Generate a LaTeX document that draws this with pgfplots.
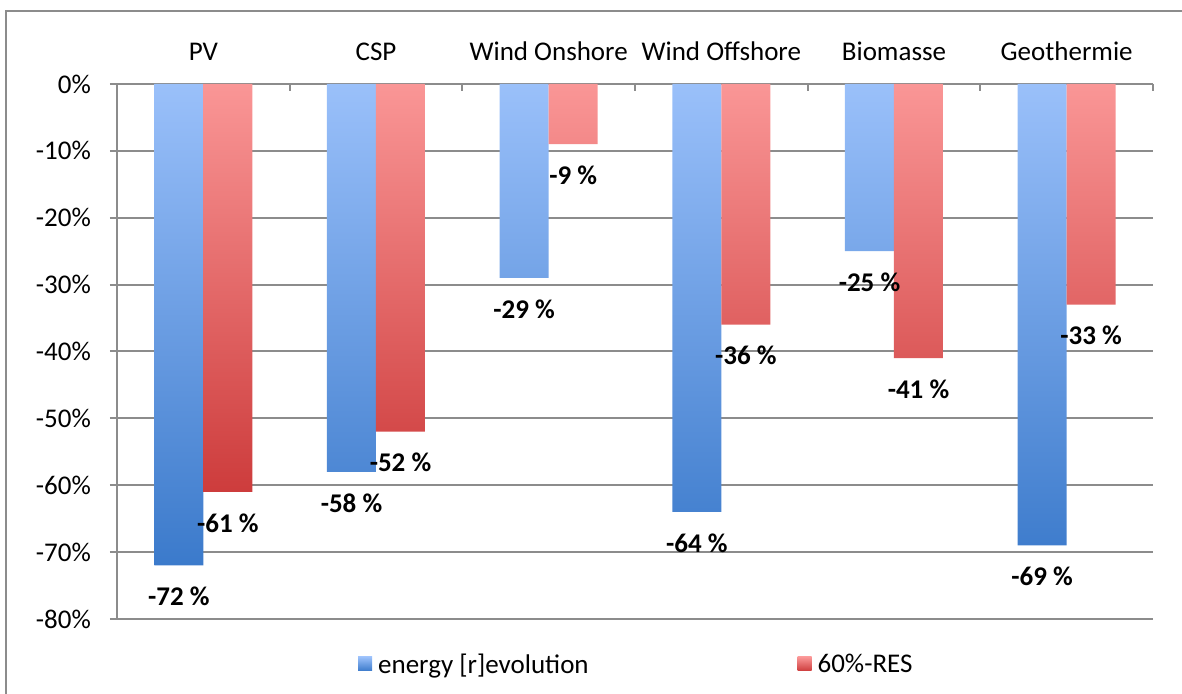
\documentclass[border=0pt]{standalone}
\usepackage{pgfplots}
\pgfplotsset{compat=1.18}
\usepackage{fontspec}
\setmainfont{Carlito}
\definecolor{btop}{HTML}{9AC0FA}
\definecolor{bbot}{HTML}{3B7ACB}
\definecolor{rtop}{HTML}{FA9696}
\definecolor{rbot}{HTML}{CD3C3C}
\definecolor{gridgray}{HTML}{8C8C8C}
\newcommand{\bigfont}{\fontsize{27bp}{32bp}\selectfont}
\begin{document}
\begin{tikzpicture}
\useasboundingbox (0,0) rectangle (1182bp,694bp);
\draw[color=gridgray, line width=2bp] (6bp,-20bp) -- (6bp,683bp) -- (1200bp,683bp);
\begin{axis}[
  at={(117bp,75bp)}, anchor=south west,
  scale only axis, width=1036bp, height=535bp,
  xmin=-0.5, xmax=5.5, ymin=-80, ymax=0,
  enlargelimits=false,
  axis x line*=top, axis y line*=left,
  axis line style={gridgray, line width=2bp},
  ymajorgrids, major grid style={gridgray, line width=2bp},
  ytick={-80,-70,-60,-50,-40,-30,-20,-10,0},
  yticklabels={-80\%,-70\%,-60\%,-50\%,-40\%,-30\%,-20\%,-10\%,0\%},
  y tick style={gridgray, line width=2bp},
  ytick align=outside, major tick length=7bp,
  yticklabel style={anchor=east, inner sep=0pt, xshift=-19bp, font=\bigfont},
  xtick={0,1,2,3,4,5},
  xticklabels={PV,CSP,Wind Onshore,Wind Offshore,Biomasse,Geothermie},
  x tick style={draw=none},
  xticklabel style={anchor=base, inner sep=0pt, yshift=16.5bp, font=\bigfont},
  extra x ticks={0.5,1.5,2.5,3.5,4.5,5.5},
  extra x tick labels={},
  extra x tick style={xtick align=inside, grid=none, x tick style={draw=gridgray, line width=2bp}},
  ybar=0pt, bar width=49bp,
  nodes near coords, point meta=explicit symbolic,
  every node near coord/.append style={font=\bfseries\bigfont, anchor=center, yshift=-31bp, inner sep=0pt},
  legend columns=2,
  legend style={at={(axis description cs:0.2326,-0.0841)}, anchor=west, draw=none, fill=none, inner sep=0pt, font=\bigfont,
    /tikz/every even column/.append style={column sep=203bp}},
  legend cell align=left,
  legend image code/.code={\draw[#1, draw=none] (0bp,-7bp) rectangle (14bp,7bp);},
  legend style={nodes={inner xsep=6bp}},
]
\addplot[draw=none, top color=btop, bottom color=bbot] coordinates {
  (0,-72) [-72 \%] (1,-58) [-58 \%] (2,-29) [-29 \%] (3,-64) [-64 \%] (4,-25) [-25 \%] (5,-69) [-69 \%]
};
\addlegendentry{energy [r]evolution}
\addplot[draw=none, top color=rtop, bottom color=rbot] coordinates {
  (0,-61) [-61 \%] (1,-52) [-52 \%] (2,-9) [-9 \%] (3,-36) [-36 \%] (4,-41) [-41 \%] (5,-33) [-33 \%]
};
\addlegendentry{60\%-RES}
\end{axis}
\end{tikzpicture}
\end{document}
